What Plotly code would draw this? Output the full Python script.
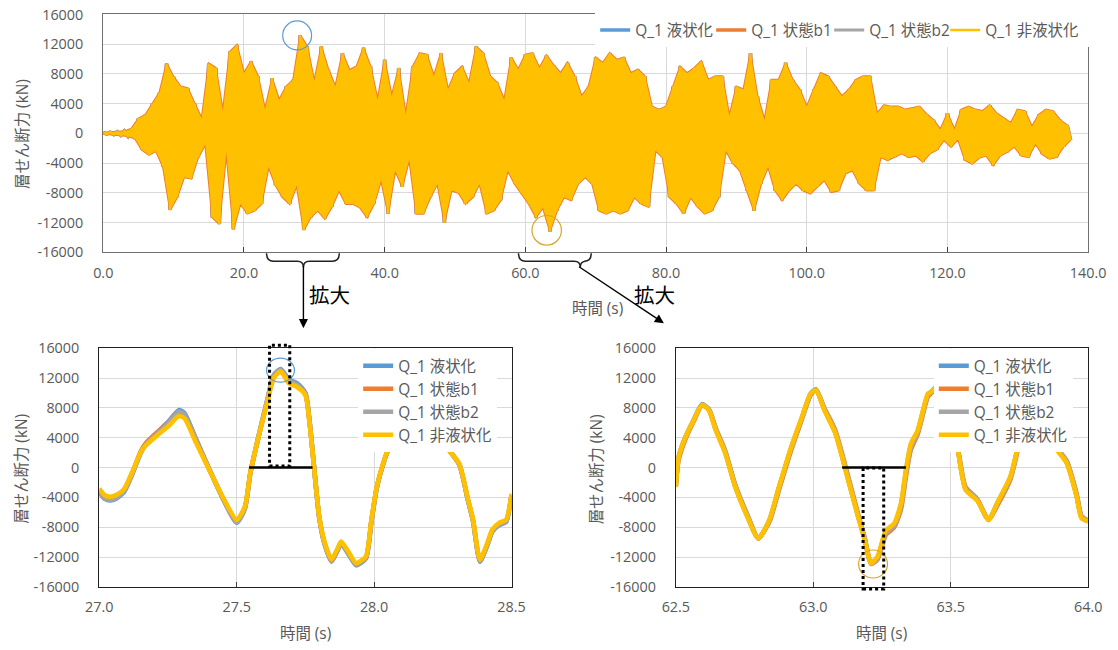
import numpy as np
import plotly.graph_objects as go

W, H = 1118, 650
# the photographed picture is a slightly reduced copy of the page:
# picture ~ S * page + O (measured), so layout positions are given in
# picture pixels and mapped back to page pixels here.
SX, OX = 0.972, 12.7
SY, OY = 0.975, 7.5
FS = 1 / 0.9735

# ---------------- data ----------------
SERIES = ["Q_1 液状化", "Q_1 状態b1", "Q_1 状態b2", "Q_1 非液状化"]
COLORS = ["#5B9BD5", "#ED7D31", "#A5A5A5", "#FFC000"]

# Top (full record): positive and negative peak per second (kN)
top_peak_time = list(range(138))
top_upper = [100, 150, 200, 300, 600, 2000, 2500, 4000, 5500, 9400,
             7600, 6300, 6100, 4000, 2000, 9400, 8800, 3000, 11000, 11900,
             8100, 9700, 7700, 3200, 7400, 4500, 6300, 7200, 13200, 11700,
             7000, 11700, 8600, 6300, 10800, 8500, 9000, 11500, 9000, 4500,
             9900, 5000, 8800, 2500, 9000, 10800, 10600, 7700, 10800, 5900,
             8100, 9000, 6800, 11700, 10800, 7700, 6800, 4500, 10200, 8600,
             10600, 10800, 8800, 10500, 9200, 8100, 9500, 7700, 5000, 6300,
             10200, 9500, 10800, 9900, 10200, 8100, 8600, 7700, 3600, 3200,
             3600, 6300, 9000, 8100, 8800, 9700, 7200, 7700, 7700, 2300,
             6300, 5900, 10800, 5000, 1800, 7200, 7200, 9500, 7200, 5900,
             3600, 5900, 8100, 7700, 6300, 5000, 5900, 7200, 7700, 7700,
             2700, 3800, 3600, 3600, 3200, 3400, 3600, 2600, 1800, 500,
             2700, 500, 3200, 3600, 3200, 3000, 3800, 2700, 2000, 1400,
             3200, 3000, 900, 2500, 3200, 3000, 1800, 1100]
top_lower = [-100, -150, -250, -350, -700, -2200, -2900, -2400, -4500, -10300,
             -8600, -5900, -6100, -3200, -1500, -11300, -12200, -2500, -12900, -9500,
             -10800, -10400, -9500, -4500, -7000, -8600, -9500, -7000, -13000, -11300,
             -10400, -11500, -9900, -7700, -9500, -9500, -10000, -11300, -9500, -6300,
             -10800, -5000, -7200, -3500, -10800, -10800, -8600, -6800, -12000, -7700,
             -8000, -9500, -8600, -6800, -10800, -10400, -9000, -5000, -6800, -8100,
             -9500, -11300, -10000, -13200, -10400, -8600, -9000, -6800, -5900, -6800,
             -10400, -10800, -10400, -10800, -10400, -8600, -9500, -9900, -2300, -3200,
             -8600, -9500, -10800, -8600, -9900, -10800, -10400, -8600, -2300, -4000,
             -5000, -7700, -10400, -6800, -4500, -7700, -9000, -7700, -6800, -7700,
             -8100, -7200, -6300, -7900, -7700, -5400, -5000, -6800, -7700, -7700,
             -3200, -3600, -3200, -2700, -3200, -3000, -3800, -2700, -2200, -900,
             -1800, -800, -3600, -4100, -3300, -3000, -4300, -3000, -2500, -1800,
             -3000, -3200, -1400, -2800, -3400, -3200, -1800, -900]

# Zoom 1: 27.0 - 28.5 s
left_t = [27.000, 27.020, 27.040, 27.060, 27.090, 27.120, 27.150, 27.170, 27.210, 27.250,
          27.290, 27.310, 27.350, 27.400, 27.450, 27.500, 27.530, 27.550, 27.580, 27.610,
          27.635, 27.660, 27.690, 27.720, 27.750, 27.765, 27.780, 27.800, 27.820, 27.845,
          27.865, 27.880, 27.910, 27.935, 27.970, 27.990, 28.010, 28.040, 28.070, 28.120,
          28.170, 28.220, 28.260, 28.310, 28.340, 28.360, 28.385, 28.410, 28.430, 28.455,
          28.480, 28.500]
left_liq = [-3300, -4200, -4400, -4200, -3300, -900, 1900, 3200, 4700, 6100,
            7700, 7300, 4000, -200, -4200, -7400, -5500, -700, 4300, 8900,
            12400, 13200, 11800, 11300, 10000, 6300, 700, -6600, -10300, -12600,
            -11300, -10200, -11800, -13100, -12200, -7300, -2700, 1300, 4300, 9700,
            11200, 7200, 3100, 400, -4200, -7200, -12600, -10600, -8600, -7700,
            -7300, -3800]
left_b1 = [-3200, -4100, -4300, -4000, -3100, -700, 2100, 3300, 4700, 6000,
           7400, 7100, 3900, -200, -4100, -7200, -5300, -600, 4200, 8700,
           12200, 13000, 11600, 11000, 9900, 6100, 600, -6600, -10200, -12500,
           -11200, -10100, -11700, -13000, -12100, -7200, -2600, 1300, 4200, 9600,
           11100, 7100, 3000, 400, -4100, -7100, -12500, -10500, -8500, -7600,
           -7200, -3700]
left_b2 = [-3100, -4100, -4300, -4100, -3200, -800, 1900, 3100, 4500, 5900,
           7500, 7100, 3800, -200, -4100, -7300, -5400, -700, 4200, 8800,
           12300, 13100, 11600, 11100, 9900, 6200, 600, -6600, -10200, -12500,
           -11200, -10100, -11700, -13000, -12100, -7200, -2600, 1300, 4200, 9600,
           11100, 7100, 3000, 400, -4100, -7200, -12500, -10500, -8500, -7600,
           -7200, -3700]
left_nonliq = [-2800, -3700, -3900, -3700, -2900, -600, 2000, 3000, 4300, 5500,
               6900, 6600, 3500, -300, -4000, -7000, -5200, -600, 4200, 8600,
               12000, 12900, 11300, 10800, 9700, 6000, 600, -6500, -10000, -12300,
               -11000, -9900, -11500, -12800, -11900, -7000, -2500, 1400, 4200, 9500,
               11000, 7000, 3000, 500, -4000, -7000, -12300, -10300, -8300, -7400,
               -7000, -3500]

# Zoom 2: 62.5 - 64.0 s
right_t = [62.500, 62.510, 62.535, 62.565, 62.595, 62.620, 62.645, 62.680, 62.715, 62.760,
           62.800, 62.840, 62.875, 62.920, 62.955, 62.990, 63.010, 63.040, 63.080, 63.127,
           63.163, 63.187, 63.210, 63.234, 63.264, 63.294, 63.319, 63.337, 63.355, 63.380,
           63.417, 63.430, 63.470, 63.500, 63.524, 63.554, 63.596, 63.638, 63.668, 63.717,
           63.747, 63.780, 63.820, 63.850, 63.874, 63.922, 63.958, 63.976, 64.000]
right_liq = [-2500, 1400, 4100, 6400, 8500, 7800, 5100, 2000, -2400, -6500,
             -9500, -7100, -2700, 2700, 6300, 9900, 10500, 7800, 4700, -1600,
             -6500, -9600, -12800, -12000, -8600, -7700, -5000, -500, 3000, 4900,
             9800, 10200, 11500, 7100, 2900, -2900, -4300, -7000, -4900, -1300,
             3100, 7400, 9000, 6100, 3100, 700, -3800, -6700, -7200]
right_b1 = [-2000, 1000, 3800, 6200, 8300, 7800, 5300, 2200, -2200, -6300,
            -9400, -7300, -3000, 2400, 6100, 9700, 10400, 8000, 5000, -1200,
            -6200, -9400, -12900, -12300, -9000, -8000, -5600, -1200, 2400, 4500,
            9500, 10000, 11400, 7300, 3100, -2600, -4200, -7000, -5200, -1600,
            2800, 7200, 9000, 6300, 3300, 900, -3500, -6500, -7100]
right_b2 = [-2400, 1300, 4000, 6300, 8400, 7800, 5200, 2100, -2300, -6400,
            -9500, -7200, -2800, 2600, 6200, 9800, 10400, 7900, 4800, -1400,
            -6400, -9500, -12900, -12100, -8800, -7800, -5300, -800, 2700, 4700,
            9700, 10100, 11400, 7200, 3000, -2800, -4300, -7000, -5000, -1400,
            3000, 7300, 9000, 6200, 3200, 800, -3700, -6600, -7100]
right_nonliq = [-2600, 1400, 4100, 6400, 8400, 7700, 5000, 1900, -2500, -6600,
                -9500, -7000, -2600, 2800, 6400, 9900, 10400, 7700, 4600, -1700,
                -6600, -9700, -12800, -11900, -8400, -7500, -4800, -300, 3200, 5000,
                9900, 10200, 11500, 7000, 2800, -3000, -4400, -7000, -4800, -1200,
                3200, 7500, 9000, 6000, 3000, 600, -3900, -6800, -7200]

y_ticks = list(range(-16000, 16001, 4000))
y_ticktext = [str(v) for v in y_ticks]
top_xticks = list(range(0, 141, 20))
top_xticktext = [f"{v:.1f}" for v in top_xticks]
left_xticks = [27.0, 27.5, 28.0, 28.5]
right_xticks = [62.5, 63.0, 63.5, 64.0]

# ---------------- helpers: picture pixel -> paper ----------------
def px(x):
    x = 102 + (x - 102) / 1.0035
    return ((x - OX) / SX) / W

def py(y):
    y = 587 + (y - 587) / 0.9965
    return 1 - ((y - OY) / SY) / H

def f(s):
    return round(s * FS, 2)

FONT = "Open Sans, Noto Sans CJK JP, sans-serif"
GRAY_TXT = "#595959"

# zig-zag time history through the positive / negative peaks
top_t, top_v = [], []
for t, u, l in zip(top_peak_time, top_upper, top_lower):
    top_t += [t, t + 0.5]
    top_v += [u, l]
top_lower_t = [t + 0.5 for t in top_peak_time]

fig = go.Figure()
top_lw = [71, 73, 71, 100]
for name, col, w, lw in zip(SERIES[:3], COLORS[:3], [3.6, 3.6, 3.0], top_lw):
    fig.add_trace(go.Scatter(x=top_t, y=top_v, mode="lines", name=name,
                             line=dict(color=col, width=w), xaxis="x", yaxis="y",
                             legend="legend", legendwidth=lw))
# thin orange rim along the peak envelope (tips of the other series)
fig.add_trace(go.Scatter(x=top_peak_time, y=top_upper, mode="lines",
                         line=dict(color=COLORS[1], width=2.0), showlegend=False,
                         hoverinfo="skip", xaxis="x", yaxis="y"))
fig.add_trace(go.Scatter(x=top_lower_t, y=top_lower, mode="lines",
                         line=dict(color=COLORS[1], width=2.0), showlegend=False,
                         hoverinfo="skip", xaxis="x", yaxis="y"))
# yellow band between the peaks + its zig-zag line
fig.add_trace(go.Scatter(x=top_lower_t, y=top_lower, mode="lines", line=dict(width=0),
                         showlegend=False, hoverinfo="skip", xaxis="x", yaxis="y"))
fig.add_trace(go.Scatter(x=top_peak_time, y=top_upper, mode="lines", line=dict(width=0),
                         fill="tonexty", fillcolor=COLORS[3], showlegend=False,
                         hoverinfo="skip", xaxis="x", yaxis="y"))
fig.add_trace(go.Scatter(x=top_t, y=top_v, mode="lines", name=SERIES[3],
                         line=dict(color=COLORS[3], width=2.4), xaxis="x", yaxis="y",
                         legend="legend", legendwidth=top_lw[3]))

for name, col, vals in zip(SERIES, COLORS, [left_liq, left_b1, left_b2, left_nonliq]):
    fig.add_trace(go.Scatter(x=left_t, y=vals, mode="lines", name=name,
                             line=dict(color=col, width=4.6, shape="spline", smoothing=0.6),
                             xaxis="x2", yaxis="y2", legend="legend2", legendgroup="l" + name))
for name, col, vals in zip(SERIES, COLORS, [right_liq, right_b1, right_b2, right_nonliq]):
    fig.add_trace(go.Scatter(x=right_t, y=vals, mode="lines", name=name,
                             line=dict(color=col, width=4.6, shape="spline", smoothing=0.6),
                             xaxis="x3", yaxis="y3", legend="legend3", legendgroup="r" + name))

def xaxis_style(dom, rng, tv, tt, anchor, linecol):
    return dict(domain=dom, range=rng, tickvals=tv, ticktext=tt, anchor=anchor,
                showgrid=True, gridcolor="#D9D9D9", gridwidth=1, zeroline=False,
                showline=True, mirror=True, linecolor=linecol, linewidth=1.2,
                ticks="inside", ticklen=5, tickcolor="#404040",
                tickfont=dict(family=FONT, size=f(14), color=GRAY_TXT),
                ticklabelstandoff=7, fixedrange=True)

def yaxis_style(dom, anchor, linecol):
    return dict(domain=dom, range=[-16000, 16000], tickvals=y_ticks, ticktext=y_ticktext,
                anchor=anchor, showgrid=True, gridcolor="#D9D9D9", gridwidth=1,
                zeroline=False, showline=True, mirror=True, linecolor=linecol,
                linewidth=1.2, ticks="", tickfont=dict(family=FONT, size=f(14), color=GRAY_TXT),
                ticklabelstandoff=16, fixedrange=True)

legend_common = dict(font=dict(family=FONT, size=f(15), color=GRAY_TXT), bgcolor="white",
                     borderwidth=0, tracegroupgap=2, traceorder="normal")

fig.update_layout(
    width=W, height=H, margin=dict(l=0, r=0, t=0, b=0),
    paper_bgcolor="white", plot_bgcolor="white",
    font=dict(family=FONT, color=GRAY_TXT),
    xaxis=xaxis_style([px(102), px(1091)], [0, 140], top_xticks, top_xticktext, "y", "#707070"),
    yaxis=yaxis_style([py(252), py(14)], "x", "#707070"),
    xaxis2=xaxis_style([px(98), px(512)], [27.0, 28.5], left_xticks,
                       [f"{v:.1f}" for v in left_xticks], "y2", "#202020"),
    yaxis2=yaxis_style([py(587), py(348)], "x2", "#202020"),
    xaxis3=xaxis_style([px(677), px(1091)], [62.5, 64.0], right_xticks,
                       [f"{v:.1f}" for v in right_xticks], "y3", "#202020"),
    yaxis3=yaxis_style([py(587), py(348)], "x3", "#202020"),
    legend=dict(orientation="h", x=px(596), xanchor="left", y=py(30), yanchor="middle",
                entrywidth=71, **legend_common),
    legend2=dict(orientation="v", x=px(358), xanchor="left", y=py(349), yanchor="top",
                 **legend_common),
    legend3=dict(orientation="v", x=px(936), xanchor="left", y=py(349), yanchor="top",
                 **legend_common),
    showlegend=True,
)

# ---------------- annotations ----------------
ann = []
def text(x, y, s, size=15, color=GRAY_TXT, angle=0):
    ann.append(dict(x=px(x), y=py(y), xref="paper", yref="paper", text=s, showarrow=False,
                    textangle=angle, font=dict(family=FONT, size=f(size), color=color),
                    xanchor="center", yanchor="middle"))

text(21, 134, "層せん断力 (kN)", angle=-90)
text(19, 469, "層せん断力 (kN)", angle=-90)
text(597, 469, "層せん断力 (kN)", angle=-90)
text(598, 308, "時間 (s)")
text(305, 634, "時間 (s)")
text(883, 634, "時間 (s)")
text(329, 295, "拡大", size=20, color="black")
text(656, 295, "拡大", size=20, color="black")

def arrow(hx, hy, tx, ty):
    ann.append(dict(x=px(hx), y=py(hy), xref="paper", yref="paper", text="",
                    showarrow=True, ax=(tx - hx) / SX, ay=(ty - hy) / SY,
                    axref="pixel", ayref="pixel",
                    arrowhead=2, arrowsize=1.3, arrowwidth=1.4, arrowcolor="black",
                    standoff=0, startstandoff=0))

arrow(303, 328, 303, 266)
arrow(665, 323, 581, 267)
fig.update_layout(annotations=ann)

# ---------------- shapes ----------------
def P(x, y):
    return f"{px(x):.5f},{py(y):.5f}"

def brace(xl, xr, xt, ytop=253, ymid=261, ytip=267):
    return ("M " + P(xl, ytop) + " Q " + P(xl, ymid) + " " + P(xl + 7, ymid) +
            " L " + P(xt - 6, ymid) + " Q " + P(xt, ymid) + " " + P(xt, ytip) +
            " Q " + P(xt, ymid) + " " + P(xt + 6, ymid) +
            " L " + P(xr - 7, ymid) + " Q " + P(xr, ymid) + " " + P(xr, ytop))

shapes = []
for xl, xr, xt in [(266, 339, 303), (519, 592, 581)]:
    shapes.append(dict(type="path", path=brace(xl, xr, xt), xref="paper", yref="paper",
                       line=dict(color="#202020", width=1.5)))

def circle(cx, cy, rx, ry, col, w=1.2):
    shapes.append(dict(type="circle", xref="paper", yref="paper",
                       x0=px(cx - rx), x1=px(cx + rx), y0=py(cy + ry), y1=py(cy - ry),
                       line=dict(color=col, width=w)))

circle(296.7, 35, 14.5, 14.5, "#5B9BD5")
circle(547.3, 230, 14.8, 14.8, "#D9A526")
circle(280, 370, 14, 12, "#5B9BD5")
circle(875, 564, 14.5, 14, "#D9A526")

def drect(x0, x1, y0, y1):
    shapes.append(dict(type="rect", xref="paper", yref="paper",
                       x0=px(x0), x1=px(x1), y0=py(y1), y1=py(y0),
                       line=dict(color="black", width=3, dash="dot")))

drect(269, 289.3, 345, 466)
drect(865, 885.7, 468, 589)

shapes.append(dict(type="line", xref="x2", yref="y2", x0=27.545, x1=27.776, y0=0, y1=0,
                   line=dict(color="black", width=2.5)))
shapes.append(dict(type="line", xref="x3", yref="y3", x0=63.105, x1=63.337, y0=0, y1=0,
                   line=dict(color="black", width=2.5)))
fig.update_layout(shapes=shapes)

fig.write_html("out.html", config={"displayModeBar": False},
               post_script="document.body.style.margin='0';")
